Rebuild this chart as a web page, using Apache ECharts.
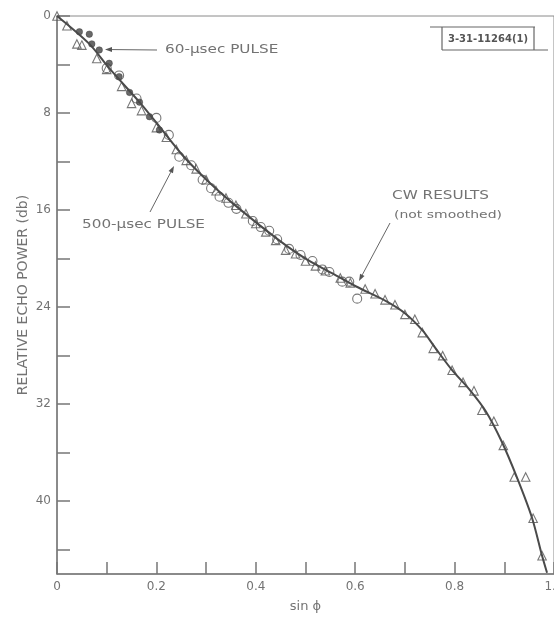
<!DOCTYPE html>
<html>
<head>
<meta charset="utf-8">
<script src="https://cdn.jsdelivr.net/npm/echarts@6/dist/echarts.min.js"></script>
<style>
html,body{margin:0;padding:0;background:#fff;}
#c{width:554px;height:620px;}
</style>
</head>
<body>
<div id="c"></div>
<script>
// smoothed curve (sin phi, relative echo power db)
const curveX = [0, 0.065, 0.105, 0.166, 0.2, 0.253, 0.306, 0.367, 0.447, 0.5, 0.562, 0.602, 0.662, 0.7, 0.735, 0.76, 0.795, 0.83, 0.863, 0.895, 0.926, 0.956, 0.976, 0.986];
const curveY = [0, 2.3, 4.3, 7.1, 8.8, 11.5, 13.7, 15.9, 18.5, 20.0, 21.4, 22.3, 23.5, 24.5, 25.9, 27.3, 29.2, 30.8, 32.6, 35.1, 38.1, 41.4, 44.5, 45.9];

// CW results (triangles)
const cwX = [0, 0.02, 0.04, 0.05, 0.08, 0.10, 0.13, 0.15, 0.17, 0.20, 0.22, 0.24, 0.26, 0.28, 0.30, 0.32, 0.34, 0.36, 0.38, 0.40, 0.42, 0.44, 0.46, 0.48, 0.50, 0.52, 0.54, 0.57, 0.59, 0.62, 0.64, 0.66, 0.68, 0.70, 0.72, 0.735, 0.757, 0.776, 0.795, 0.817, 0.839, 0.855, 0.879, 0.898, 0.92, 0.943, 0.958, 0.976];
const cwY = [0, 0.8, 2.3, 2.4, 3.5, 4.4, 5.8, 7.2, 7.8, 9.2, 10.0, 11.0, 11.9, 12.6, 13.5, 14.4, 15.0, 15.6, 16.3, 17.1, 17.8, 18.5, 19.3, 19.6, 20.2, 20.6, 21.0, 21.6, 22.0, 22.5, 22.9, 23.4, 23.8, 24.6, 25.0, 26.1, 27.4, 28.0, 29.2, 30.2, 30.9, 32.5, 33.4, 35.4, 38.0, 38.0, 41.4, 44.5];

// 500-usec pulse (open circles)
const p500X = [0.10, 0.125, 0.16, 0.20, 0.225, 0.246, 0.27, 0.293, 0.31, 0.327, 0.345, 0.361, 0.394, 0.41, 0.427, 0.443, 0.467, 0.49, 0.514, 0.534, 0.548, 0.574, 0.588, 0.604];
const p500Y = [4.3, 4.9, 6.8, 8.4, 9.8, 11.6, 12.3, 13.5, 14.2, 14.9, 15.4, 15.9, 16.9, 17.4, 17.7, 18.4, 19.2, 19.7, 20.2, 20.9, 21.1, 21.9, 21.9, 23.3];

// 60-usec pulse (filled dots)
const p60X = [0.045, 0.065, 0.07, 0.085, 0.105, 0.125, 0.146, 0.166, 0.186, 0.206];
const p60Y = [1.3, 1.5, 2.3, 2.8, 3.9, 5.0, 6.3, 7.1, 8.3, 9.4];

const yLabels = [0, 8, 16, 24, 32, 40];
const xLabels = [0, 0.2, 0.4, 0.6, 0.8, 1.0];

const zip = (a, b) => a.map((v, i) => [v, b[i]]);
const FONT = 'DejaVu Sans';
const INK = '#4a4a4a';
const TXT = '#737373';

const chart = echarts.init(document.getElementById('c'), null, {renderer: 'canvas'});
chart.setOption({
  animation: false,
  backgroundColor: '#fff',
  grid: {left: 57, right: 0, top: 16, bottom: 46, show: true, borderColor: '#8a8a8a', borderWidth: 1,
         containLabel: false, outerBoundsMode: 'none'},
  xAxis: {
    type: 'value', min: 0, max: 1, interval: 0.1,
    name: 'sin \u03d5', nameLocation: 'middle', nameGap: 26, nameMoveOverlap: false,
    nameTextStyle: {fontFamily: FONT, fontSize: 13, color: TXT},
    axisLine: {show: true, onZero: false, lineStyle: {color: '#777', width: 1.5}},
    axisTick: {show: true, inside: true, length: 12, lineStyle: {color: '#777', width: 1.5}},
    axisLabel: {
      fontFamily: FONT, fontSize: 12, color: TXT, margin: 7,
      formatter: v => {
        const r = Math.round(v * 10) / 10;
        const hit = xLabels.find(t => Math.abs(t - r) < 1e-6);
        if (hit === undefined) return '';
        return hit === 0 ? '0' : hit.toFixed(1);
      }
    },
    splitLine: {show: false}
  },
  yAxis: {
    type: 'value', min: 0, max: 46, interval: 4, inverse: true,
    name: 'RELATIVE ECHO POWER (db)', nameLocation: 'middle', nameGap: 27, nameMoveOverlap: false,
    nameTextStyle: {fontFamily: FONT, fontSize: 14, color: TXT},
    axisLine: {show: true, onZero: false, lineStyle: {color: '#777', width: 1.5}},
    axisTick: {show: true, inside: true, length: 13, lineStyle: {color: '#777', width: 1.5}},
    axisLabel: {
      fontFamily: FONT, fontSize: 12, color: TXT, margin: 6, showMaxLabel: false,
      formatter: v => (yLabels.indexOf(Math.round(v)) >= 0 && Math.abs(v - Math.round(v)) < 1e-6) ? String(Math.round(v)) : ''
    },
    splitLine: {show: false}
  },
  series: [
    {
      name: 'CW', type: 'scatter', symbol: 'triangle', symbolSize: 8.5, z: 2,
      itemStyle: {color: 'rgba(255,255,255,0)', borderColor: '#555', borderWidth: 1.1},
      data: zip(cwX, cwY)
    },
    {
      name: '500', type: 'scatter', symbol: 'circle', symbolSize: 9, z: 2,
      itemStyle: {color: 'rgba(255,255,255,0)', borderColor: '#555', borderWidth: 1.1},
      data: zip(p500X, p500Y)
    },
    {
      name: '60', type: 'scatter', symbol: 'circle', symbolSize: 6.5, z: 3,
      itemStyle: {color: '#444', borderColor: '#333', borderWidth: 0.5},
      data: zip(p60X, p60Y)
    },
    {
      name: 'curve', type: 'line', smooth: 0.3, showSymbol: false, z: 4,
      lineStyle: {color: INK, width: 2},
      data: zip(curveX, curveY)
    }
  ]
});

// annotations
function arrow(x1, y1, x2, y2) {
  const ang = Math.atan2(y2 - y1, x2 - x1);
  const L = 7, W = 2.5;
  const bx = x2 - L * Math.cos(ang), by = y2 - L * Math.sin(ang);
  const px = -Math.sin(ang) * W, py = Math.cos(ang) * W;
  return [
    {type: 'line', shape: {x1: x1, y1: y1, x2: bx, y2: by}, style: {stroke: '#666', lineWidth: 1}},
    {type: 'polygon', shape: {points: [[x2, y2], [bx + px, by + py], [bx - px, by - py]]}, style: {fill: '#555'}}
  ];
}
const txt = (x, y, s, size) => ({
  type: 'text', x: x, y: y, scaleX: 1.27,
  style: {text: s, fontFamily: FONT, fontSize: size, fill: TXT, textVerticalAlign: 'middle', textAlign: 'left'}
});

const g = [];
g.push(txt(165, 50, '60-\u03bcsec PULSE', 12));
g.push(...arrow(157, 50, 105, 49.5));
g.push(txt(82, 225, '500-\u03bcsec PULSE', 12));
g.push(...arrow(150, 212, 174, 166));
g.push(txt(392, 196, 'CW RESULTS', 12));
g.push(txt(394, 215, '(not smoothed)', 11));
g.push(...arrow(390, 223, 359, 281));
// label box
const lb = {stroke: '#666', lineWidth: 1.2};
g.push({type: 'line', shape: {x1: 430, y1: 27, x2: 535, y2: 27}, style: lb});
g.push({type: 'line', shape: {x1: 442, y1: 27, x2: 442, y2: 50}, style: lb});
g.push({type: 'line', shape: {x1: 442, y1: 50, x2: 548, y2: 50}, style: lb});
g.push({type: 'line', shape: {x1: 534, y1: 27, x2: 534, y2: 50}, style: lb});
g.push({type: 'text', x: 488, y: 39, style: {text: '3-31-11264(1)', fontFamily: FONT, fontSize: 10, fontWeight: 'bold', fill: '#555', textAlign: 'center', textVerticalAlign: 'middle'}});
chart.setOption({graphic: g});
</script>
</body>
</html>
